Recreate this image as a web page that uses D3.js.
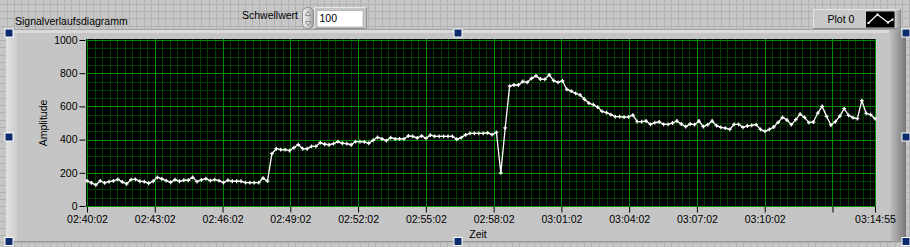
<!DOCTYPE html>
<html>
<head>
<meta charset="utf-8">
<script src="https://d3js.org/d3.v7.min.js"></script>
<style>
  body { margin: 0; background: #c6c6c6; }
  svg { display: block; }
  text { font-family: "Liberation Sans", Arial, sans-serif; font-size: 10.5px; fill: #000; }
  .axis .tick line { stroke: #000; }
  .axis .domain { display: none; }
</style>
</head>
<body>
<script>
// Signal chart data
var startTime = "02:40:02";
var endTime = "03:14:55";

// Amplitude samples, evenly spaced between start and end time
var amplitude = [
  151, 139, 127, 151, 139, 147, 151, 161, 145, 133,
  159, 161, 149, 147, 137, 149, 173, 163, 153, 143,
  159, 149, 155, 155, 173, 147, 157, 165, 153, 159,
  153, 141, 155, 149, 149, 149, 141, 141, 141, 141,
  168, 150, 316, 345, 340, 339, 334, 351, 370, 345,
  345, 359, 359, 382, 372, 369, 376, 388, 378, 376,
  369, 388, 388, 386, 378, 396, 414, 404, 394, 412,
  404, 404, 404, 422, 420, 410, 422, 408, 427, 420,
  420, 420, 420, 420, 402, 412, 429, 437, 437, 437,
  437, 441, 430, 444, 200, 470, 722, 729, 729, 750,
  745, 769, 784, 765, 763, 790, 755, 745, 753, 702,
  692, 678, 669, 643, 620, 610, 596, 570, 563, 551,
  539, 538, 535, 537, 548, 508, 508, 512, 492, 502,
  506, 492, 492, 500, 512, 494, 478, 494, 490, 512,
  478, 490, 512, 484, 474, 469, 461, 492, 492, 474,
  482, 486, 490, 461, 449, 461, 476, 504, 534, 518,
  490, 520, 554, 534, 502, 506, 560, 600, 540, 488,
  508, 542, 586, 546, 532, 526, 635, 558, 550, 526
];

var yTicks = [0, 200, 400, 600, 800, 1000];
var xTicks = ["02:40:02", "02:43:02", "02:46:02", "02:49:02", "02:52:02", "02:55:02",
              "02:58:02", "03:01:02", "03:04:02", "03:07:02", "03:10:02", "03:13:02", "03:14:55"];
var hiddenXLabels = ["03:13:02"];

var chartTitle = "Signalverlaufsdiagramm";
var xLabel = "Zeit";
var yLabel = "Amplitude";
var plotName = "Plot 0";
var thresholdLabel = "Schwellwert";
var thresholdValue = 100;

window.onload = function() {
  var width = 910;
  var height = 247;

  var svg = d3.select("body").append("svg")
              .attr("width", width)
              .attr("height", height);

  var defs = svg.append("defs");

  function hGradient(id, stops) {
    var g = defs.append("linearGradient").attr("id", id)
                .attr("x1", 0).attr("x2", 1).attr("y1", 0).attr("y2", 0);
    stops.forEach(function(s) {
      g.append("stop").attr("offset", s[0]).attr("stop-color", s[1]);
    });
  }
  hGradient("leftStrip", [[0, "#e2e2e2"], [1, "#cdcdcd"]]);
  hGradient("rightStrip", [[0, "#c4c4c4"], [0.4, "#a6a6a6"], [1, "#767676"]]);
  hGradient("spin", [[0, "#f0f0f0"], [0.5, "#d2d2d2"], [1, "#9c9c9c"]]);
  hGradient("legendSide", [[0, "#c8c8c8"], [1, "#8a8a8a"]]);

  // Front panel background with its grid
  svg.append("rect")
     .attr("width", width).attr("height", height)
     .style("fill", "#c6c6c6");

  var bgGrid = svg.append("g").style("stroke", "#b2b2b2").style("stroke-width", 1);
  d3.range(6.5, width, 7.22).forEach(function(x) {
    bgGrid.append("line").attr("x1", Math.round(x) + 0.5).attr("x2", Math.round(x) + 0.5)
          .attr("y1", 0).attr("y2", height);
  });
  d3.range(4, height, 7.22).forEach(function(y) {
    bgGrid.append("line").attr("y1", Math.round(y) + 0.5).attr("y2", Math.round(y) + 0.5)
          .attr("x1", 0).attr("x2", width);
  });

  // Title of the chart
  svg.append("text")
     .attr("x", 15).attr("y", 25)
     .text(chartTitle);

  // Threshold control (numeric with spin buttons)
  svg.append("text")
     .attr("x", 242).attr("y", 19)
     .text(thresholdLabel);

  svg.append("rect")
     .attr("x", 302.5).attr("y", 7.5).attr("width", 11).attr("height", 21).attr("rx", 5)
     .style("fill", "url(#spin)").style("stroke", "#8c8c8c");
  svg.append("path")
     .attr("d", "M305.5,15.5L308,11.5L310.5,15.5Z M305.5,21.5L308,25.5L310.5,21.5Z")
     .style("fill", "#e8e8e8").style("stroke", "#7a7a7a").style("stroke-width", 0.8);

  svg.append("rect")
     .attr("x", 314).attr("y", 7).attr("width", 53).attr("height", 22)
     .style("fill", "#c6c6c6");
  svg.append("path")
     .attr("d", "M314.5,28.5V7.5H366.5")
     .style("fill", "none").style("stroke", "#e6e6e6");
  svg.append("path")
     .attr("d", "M366.5,7.5V28.5H314.5")
     .style("fill", "none").style("stroke", "#8e8e8e");
  svg.append("rect")
     .attr("x", 317).attr("y", 10.5).attr("width", 46).attr("height", 16.5)
     .style("fill", "#ffffff").style("stroke", "#9a9a9a").style("stroke-width", 0.6);
  svg.append("text")
     .attr("x", 319.5).attr("y", 22)
     .text(thresholdValue);

  // Plot legend
  svg.append("rect")
     .attr("x", 813).attr("y", 9).attr("width", 88).attr("height", 20)
     .style("fill", "#c8c8c8");
  svg.append("rect")
     .attr("x", 895).attr("y", 9).attr("width", 6).attr("height", 20)
     .style("fill", "url(#legendSide)");
  svg.append("path")
     .attr("d", "M813.5,28.5V9.5H900")
     .style("fill", "none").style("stroke", "#e4e4e4");
  svg.append("path")
     .attr("d", "M813,28.5H901")
     .style("fill", "none").style("stroke", "#8c8c8c");
  svg.append("text")
     .attr("x", 827.5).attr("y", 22.5)
     .text(plotName);
  svg.append("rect")
     .attr("x", 866).attr("y", 11.5).attr("width", 28.5).attr("height", 16)
     .style("fill", "#000");
  var swatch = [[868.5, 23], [877.5, 14.5], [888, 22.5], [892.5, 19.5]];
  svg.append("path")
     .attr("d", d3.line()(swatch))
     .style("fill", "none").style("stroke", "#fff").style("stroke-width", 1.2);
  svg.selectAll(".swatchPt")
     .data(swatch)
     .enter()
     .append("rect")
     .attr("x", function(d) { return d[0] - 1; })
     .attr("y", function(d) { return d[1] - 1; })
     .attr("width", 2).attr("height", 2)
     .style("fill", "#fff");

  // Chart frame
  svg.append("rect")
     .attr("x", 6).attr("y", 30).attr("width", 900).attr("height", 212)
     .style("fill", "#c5c5c5");
  svg.append("rect")
     .attr("x", 6).attr("y", 30).attr("width", 11).attr("height", 212)
     .style("fill", "url(#leftStrip)");
  svg.append("rect")
     .attr("x", 6).attr("y", 30).attr("width", 900).attr("height", 3)
     .style("fill", "#dadada");
  svg.append("rect")
     .attr("x", 889).attr("y", 30).attr("width", 17).attr("height", 212)
     .style("fill", "url(#rightStrip)");
  svg.append("line")
     .attr("x1", 6).attr("x2", 906).attr("y1", 29.5).attr("y2", 29.5)
     .style("stroke", "#a4a4a4");
  svg.append("line")
     .attr("x1", 6).attr("x2", 906).attr("y1", 241.5).attr("y2", 241.5)
     .style("stroke", "#979797");

  // Scales
  var parseTime = d3.timeParse("%H:%M:%S");
  var formatTime = d3.timeFormat("%H:%M:%S");
  var t0 = parseTime(startTime);
  var t1 = parseTime(endTime);
  var step = (t1 - t0) / (amplitude.length - 1);

  var data = amplitude.map(function(v, i) {
    return { time: new Date(+t0 + i * step), value: v };
  });

  var plotLeft = 87, plotRight = 875, plotTop = 40, plotBottom = 206;

  var xScale = d3.scaleTime()
                 .domain([t0, t1])
                 .range([plotLeft, plotRight]);
  var yScale = d3.scaleLinear()
                 .domain([0, 1000])
                 .range([plotBottom, plotTop]);

  // Plot area
  svg.append("rect")
     .attr("x", plotLeft - 1).attr("y", plotTop - 1)
     .attr("width", plotRight - plotLeft + 1.5).attr("height", plotBottom - plotTop + 1.5)
     .style("fill", "#000");

  // Minor grid: 20 s in x, 50 in y
  var minorX = d3.range(+t0, +t1, 20000).map(function(ms) { return new Date(ms); });
  var minorY = d3.range(0, 1001, 50);
  var xMajor = xTicks.map(parseTime);

  var grid = svg.append("g").attr("class", "grid");
  grid.selectAll(".minorX")
      .data(minorX)
      .enter()
      .append("line")
      .attr("x1", function(d) { return Math.round(xScale(d)) + 0.5; })
      .attr("x2", function(d) { return Math.round(xScale(d)) + 0.5; })
      .attr("y1", plotTop - 1).attr("y2", plotBottom)
      .style("stroke", "#003f00");
  grid.selectAll(".minorY")
      .data(minorY)
      .enter()
      .append("line")
      .attr("y1", function(d) { return Math.round(yScale(d)) + 0.5; })
      .attr("y2", function(d) { return Math.round(yScale(d)) + 0.5; })
      .attr("x1", plotLeft - 1).attr("x2", plotRight + 0.5)
      .style("stroke", "#003f00");
  grid.selectAll(".majorX")
      .data(xMajor)
      .enter()
      .append("line")
      .attr("x1", function(d) { return Math.round(xScale(d)) + 0.5; })
      .attr("x2", function(d) { return Math.round(xScale(d)) + 0.5; })
      .attr("y1", plotTop - 1).attr("y2", plotBottom)
      .style("stroke", "#008e00");
  grid.selectAll(".majorY")
      .data(yTicks)
      .enter()
      .append("line")
      .attr("y1", function(d) { return Math.round(yScale(d)) + 0.5; })
      .attr("y2", function(d) { return Math.round(yScale(d)) + 0.5; })
      .attr("x1", plotLeft - 1).attr("x2", plotRight + 0.5)
      .style("stroke", "#008e00");

  // Axes
  var yAxis = d3.axisLeft(yScale)
                .tickValues(yTicks)
                .tickFormat(d3.format("d"))
                .tickSize(6)
                .tickPadding(2);
  svg.append("g")
     .attr("class", "axis")
     .attr("transform", "translate(" + (plotLeft - 1.5) + ",0)")
     .call(yAxis);

  var xAxis = d3.axisBottom(xScale)
                .tickValues(xMajor)
                .tickSize(6)
                .tickPadding(3)
                .tickFormat(function(d) {
                  var s = formatTime(d);
                  return hiddenXLabels.indexOf(s) >= 0 ? "" : s;
                });
  svg.append("g")
     .attr("class", "axis")
     .attr("transform", "translate(0," + (plotBottom + 0.5) + ")")
     .call(xAxis);

  svg.selectAll(".axis text")
     .style("font-size", "10.5px")
     .style("font-family", "'Liberation Sans', Arial, sans-serif");

  // Axis labels
  svg.append("text")
     .attr("x", (plotLeft + plotRight) / 2 - 3).attr("y", 238)
     .attr("text-anchor", "middle")
     .text(xLabel);
  svg.append("text")
     .attr("transform", "translate(47," + ((plotTop + plotBottom) / 2) + ") rotate(-90)")
     .attr("text-anchor", "middle")
     .text(yLabel);

  // Signal trace
  var line = d3.line()
               .x(function(d) { return xScale(d.time); })
               .y(function(d) { return yScale(d.value); });

  svg.append("path")
     .datum(data)
     .attr("d", line)
     .style("fill", "none")
     .style("stroke", "#ffffff")
     .style("stroke-width", 1.3);

  svg.selectAll(".pt")
     .data(data)
     .enter()
     .append("path")
     .attr("class", "pt")
     .attr("transform", function(d) {
       return "translate(" + xScale(d.time) + "," + yScale(d.value) + ")";
     })
     .attr("d", d3.symbol().type(d3.symbolCross).size(8))
     .style("fill", "#ffffff");

  // Selection handles round the chart
  var handles = [[9, 33], [458, 33], [906, 33], [9, 137], [906, 137], [9, 241.5], [458, 241.5], [906, 241.5]];
  svg.selectAll(".handle")
     .data(handles)
     .enter()
     .append("rect")
     .attr("x", function(d) { return d[0] - 4; })
     .attr("y", function(d) { return d[1] - 4; })
     .attr("width", 8).attr("height", 8)
     .style("fill", "#0c2a6e")
     .style("stroke", "#ffffff")
     .style("stroke-width", 1);
};
</script>
</body>
</html>
